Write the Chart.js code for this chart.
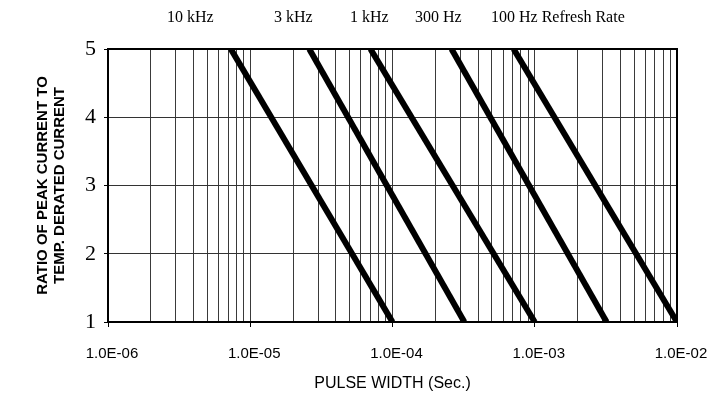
<!DOCTYPE html>
<html>
<head>
<meta charset="utf-8">
<script src="https://cdn.jsdelivr.net/npm/chart.js@4/dist/chart.umd.min.js"></script>
<style>
  html, body { margin: 0; padding: 0; background: #fff; }
  #wrap { width: 724px; height: 400px; }
</style>
</head>
<body>
<div id="wrap"><canvas id="pulse-chart" width="724" height="400"></canvas></div>
<script>
// refresh rates, one line each
const rates = ["10 kHz", "3 kHz", "1 kHz", "300 Hz", "100 Hz Refresh Rate"];
// pulse width where each line meets ratio 5 (top) and ratio 1 (bottom)
const widthAtRatio5 = [7.3e-6, 2.6e-5, 7.0e-5, 2.6e-4, 7.1e-4];
const widthAtRatio1 = [1.0e-4, 3.2e-4, 1.0e-3, 3.2e-3, 1.0e-2];
const ratioTop = 5;
const ratioBottom = 1;

// axis ticks
const decades = [1e-6, 1e-5, 1e-4, 1e-3, 1e-2];
const decadeLabels = ["1.0E-06", "1.0E-05", "1.0E-04", "1.0E-03", "1.0E-02"];
const yTicks = [1, 2, 3, 4, 5];

// layout only: left edge of each rate label in the top row
const rateLabelX = [167, 274, 350, 415, 491];

// log gridlines: 1..9 per decade
const xGrid = [];
for (let i = 0; i < decades.length - 1; i++) {
  for (let m = 1; m < 10; m++) xGrid.push(decades[i] * m);
}
xGrid.push(decades[decades.length - 1]);

function decadeIndex(v) {
  return decades.findIndex((d) => Math.abs(v - d) / d < 1e-6);
}

const datasets = rates.map((name, i) => ({
  label: name,
  data: [
    { x: widthAtRatio5[i], y: ratioTop },
    { x: widthAtRatio1[i], y: ratioBottom },
  ],
  borderColor: "#000",
  borderWidth: 6,
  pointRadius: 0,
  fill: false,
  tension: 0,
}));

// frame round the plot and the rate labels above it
const framePlugin = {
  id: "frame",
  beforeDraw(chart) {
    const ctx = chart.ctx;
    ctx.save();
    ctx.fillStyle = "#fff";
    ctx.fillRect(0, 0, chart.width, chart.height);
    ctx.restore();
  },
  afterDraw(chart) {
    const { ctx, chartArea: a } = chart;
    ctx.save();
    ctx.strokeStyle = "#000";
    ctx.lineWidth = 2;
    ctx.strokeRect(a.left, a.top, a.right - a.left, a.bottom - a.top);

    ctx.fillStyle = "#000";
    ctx.font = "16px 'Liberation Serif'";
    ctx.textBaseline = "middle";
    ctx.textAlign = "left";
    rates.forEach((r, i) => ctx.fillText(r, rateLabelX[i], 18));
    ctx.restore();
  },
};

new Chart(document.getElementById("pulse-chart"), {
  type: "line",
  data: { datasets: datasets },
  options: {
    responsive: false,
    animation: false,
    devicePixelRatio: 1,
    layout: { padding: { left: 34, right: 47, top: 49, bottom: 0 } },
    plugins: {
      legend: { display: false },
      tooltip: { enabled: false },
    },
    scales: {
      x: {
        type: "logarithmic",
        min: decades[0],
        max: decades[decades.length - 1],
        afterBuildTicks: (axis) => {
          axis.ticks = xGrid.map((v) => ({ value: v }));
        },
        afterFit: (axis) => {
          axis.height = 78;
        },
        ticks: {
          autoSkip: false,
          maxRotation: 0,
          padding: 18,
          labelOffset: 4,
          color: "#000",
          font: { family: "'Liberation Sans'", size: 15 },
          callback: (v) => {
            const k = decadeIndex(v);
            return k >= 0 ? decadeLabels[k] : "";
          },
        },
        grid: {
          color: "#3a3a3a",
          lineWidth: 1,
          tickLength: 5,
          tickColor: (c) => (c.tick && decadeIndex(c.tick.value) >= 0 ? "#000" : "rgba(0,0,0,0)"),
        },
        border: { display: false },
        title: {
          display: true,
          text: "PULSE WIDTH (Sec.)",
          color: "#000",
          font: { family: "'Liberation Sans'", size: 16 },
          padding: { top: 0, bottom: 7 },
        },
      },
      y: {
        type: "linear",
        min: ratioBottom,
        max: ratioTop,
        afterBuildTicks: (axis) => {
          axis.ticks = yTicks.map((v) => ({ value: v }));
        },
        afterFit: (axis) => {
          axis.width = 74;
        },
        ticks: {
          padding: 8,
          color: "#000",
          font: { family: "'Liberation Serif'", size: 22 },
        },
        grid: {
          color: "#333",
          lineWidth: 1,
          tickLength: 4,
          tickColor: "#000",
        },
        border: { display: false },
        title: {
          display: true,
          text: ["RATIO OF PEAK CURRENT TO", "TEMP. DERATED CURRENT"],
          color: "#000",
          font: { family: "'Liberation Sans'", size: 15, weight: "bold", lineHeight: 1.15 },
          padding: { top: 0, bottom: 0 },
        },
      },
    },
  },
  plugins: [framePlugin],
});
</script>
</body>
</html>
